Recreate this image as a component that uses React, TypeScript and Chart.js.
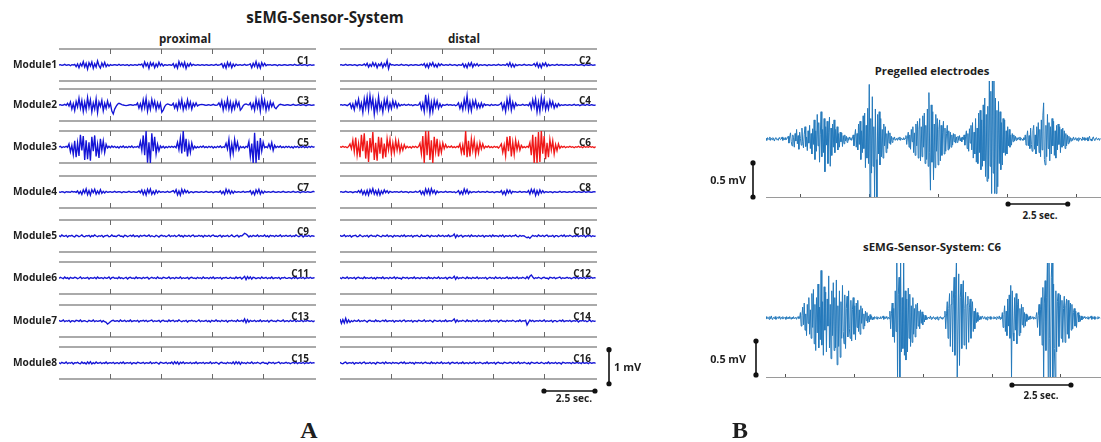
import React, { useEffect, useRef } from "react";
import { Chart, registerables } from "chart.js";
Chart.register(...registerables);

// ---------- axes / tick data ----------
const A_T_MAX = 12.6; // seconds shown in each panel-A trace
const tickTimesA = [2.5, 5, 7.5, 10];
const B_T_MAX = 14.6;
const B_DT = 1 / 30;
const tickTimesB1 = [1.48, 4.5, 7.5, 10.5, 13.5];
const tickTimesB2 = [0.83, 3.83, 6.83, 9.83, 12.83];

const moduleLabels = ["Module1", "Module2", "Module3", "Module4", "Module5", "Module6", "Module7", "Module8"];
const channelLabels = ["C1", "C2", "C3", "C4", "C5", "C6", "C7", "C8", "C9", "C10", "C11", "C12", "C13", "C14", "C15", "C16"];

// ---------- signal values, unit 0.01 mV (panel A: 180 samples over 12.6 s) ----------
const c1 = [
  0, 1, -1, 0, 2, -1, 0, 1, -2, 1, 0, 2, -5, 3, -8, 4, -3, 10, -6, 5,
  -12, 7, -3, 9, -10, 4, -6, 12, -2, -9, 6, -4, 8, -5, 2, -3, 1, -1, 0, 1,
  0, -1, 2, -1, 0, 1, -1, 0, 1, -2, 1, 0, -1, 1, 0, -1, 2, 0, 3, -6,
  9, -3, 5, -10, 7, -2, 6, -8, 3, -5, 8, -2, 4, -3, 1, 0, -1, 1, 0, -1,
  4, -7, 2, -9, 10, -3, 6, -5, 8, -10, 3, -4, 5, -2, 2, 0, -1, 1, 0, -1,
  1, 0, -1, 1, 0, -1, 0, 1, -1, 0, 2, -1, 0, 1, 4, -7, 3, -9, 8, -4,
  6, -8, 3, -4, 2, -1, 0, 1, -1, 0, 2, -1, 0, 1, 3, -8, 5, -4, 10, -7,
  4, -9, 7, -3, 5, -2, 1, 0, 1, -1, 0, 1, 0, -2, 1, 0, -1, 0, 1, 0,
  -1, 0, 1, 0, -1, 2, 0, -1, 0, 1, -1, 0, 1, 0, -2, 0, 1, -1, 0, 0,
];
const c2 = [
  0, 1, -1, 0, 2, -1, 0, 1, 0, -1, 1, 0, -2, 0, 1, -1, 0, 3, -2, 5,
  -6, 2, -4, 7, -3, 5, -8, 3, -2, 6, -7, 4, -3, 13, -11, 4, 0, 1, -1, 0,
  1, -1, 0, 2, 0, -1, 1, 0, -2, 0, 1, -1, 0, 1, 0, -1, 0, 2, -1, 4,
  -6, 3, -8, 5, -2, 7, -5, 2, -6, 4, -2, 3, 0, -1, 1, 0, -1, 2, 0, -1,
  1, 0, -2, 1, 0, -1, 4, -6, 2, -8, 5, -3, 7, -6, 3, -2, 4, -3, 1, 0,
  -1, 1, 0, -2, 1, 0, -1, 0, 1, -1, 0, 2, 0, -1, 1, 0, -1, 4, -3, 7,
  -5, 3, -6, 2, -2, 0, 1, -1, 0, 2, 0, -1, 1, 0, -1, 0, 4, -3, 6, -7,
  3, -8, 5, -2, 6, -4, 2, -2, 0, 1, -1, 0, 2, -1, 0, 1, 0, -1, 1, 0,
  -1, 0, 1, 0, -1, 2, 0, -1, 0, 1, 0, -2, 1, 0, -1, 0, 1, -1, 0, 0,
];
const c3 = [
  0, 1, -1, 0, 2, -1, 5, -3, 9, -12, 4, -16, 10, -6, 20, -9, 13, -19, 8, -14,
  22, -7, 15, -20, 6, -12, 18, -22, 9, -4, 14, -17, 5, -10, 12, -6, 4, -18, -26, -12,
  -4, 2, 5, 3, 1, 0, -1, -2, -1, 0, 1, 0, -1, 1, 0, 6, -9, 4, -13, 15,
  -8, 20, -18, 7, -13, 16, -5, 11, -14, 6, -9, 5, -21, -15, -5, 1, 3, 2, 0, -1,
  5, -9, 3, -13, 11, -6, 16, -14, 4, -10, 15, -7, 9, -12, 5, -4, 6, -3, 0, 1,
  2, 1, 0, -1, 0, 1, -1, 0, 2, 0, -1, 0, 6, -4, 12, -15, 7, -10, 17, -12,
  9, -16, 5, -11, 12, -4, 8, -15, -10, -2, 2, 3, 1, 0, 6, -10, 4, -15, 17, -8,
  12, -18, 20, -7, 14, -16, 6, -12, 10, -5, 6, -7, -11, -5, 0, 2, 1, 0, -1, 0,
  1, 0, -1, 0, 2, 0, -1, 0, 1, -1, 0, 1, 0, -2, 0, 1, 0, -1, 0, 0,
];
const c4 = [
  0, 1, -1, 1, 0, -2, 1, 5, -9, 3, -14, 10, -4, 17, -11, 6, -22, 18, -8, 24,
  -14, 28, -6, 19, -27, 9, -17, 24, -12, 5, -21, 15, -7, 18, -14, 6, -11, 13, -5, 9,
  -8, 4, -3, 1, -1, 2, -1, 0, 2, -1, 1, -2, 0, 1, -1, 0, 7, -12, 5, -19,
  30, -10, 21, -24, 8, -19, 14, -6, 12, -10, 4, -6, 1, -1, 0, 2, -1, 1, 0, -1,
  1, -2, 0, 6, -10, 4, -14, 16, -7, 28, -15, 9, -17, 12, -5, 13, -10, 4, -8, 6,
  -6, 3, -1, 1, 0, -2, 2, -1, 0, 1, -1, 0, 2, 7, -12, 4, -19, 17, -8, 21,
  -15, 8, -9, 6, -2, 1, -1, 0, 2, -1, 0, 1, -2, 6, -11, 15, -6, 18, -20, 9,
  -19, 22, -8, 17, -14, 6, -12, 13, -4, 10, -9, 3, -6, 4, -2, 1, -1, 0, 1, -1,
  0, 1, -1, 0, 2, -1, 0, 1, -2, 0, 1, 0, -1, 2, 0, -1, 1, 0, -1, 0,
];
const c5 = [
  0, 2, -2, 1, -1, 2, -1, 9, -14, 5, -22, 18, -30, 12, -26, 36, -10, 32, -38, 20,
  -36, 14, -40, 30, -12, 34, -28, 8, -32, 24, -10, 18, -16, 8, -3, 2, -2, 3, -1, 2,
  -2, 1, -3, 2, -1, 3, -2, 1, -2, 2, -1, 3, -2, 1, -1, 2, -2, 16, -10, 34,
  -24, 47, -46, 14, -47, 40, -12, 30, -20, 8, -11, 3, -2, 2, -3, 1, -2, 2, -1, 2,
  -1, 2, -2, 14, -8, 26, -19, 47, -14, 24, -28, 10, -16, 12, -6, 2, -3, 1, -2, 2,
  -1, 3, -2, 1, -2, 2, -1, 2, -3, 1, -2, 2, -1, 3, -2, 1, -1, 11, -6, 22,
  -24, 9, -19, 22, -6, 14, -9, 2, -2, 1, -3, 2, -1, 16, -28, 10, -47, 42, -47, 18,
  -38, 26, -12, 14, -2, 1, -2, 9, -4, 13, -10, 5, -2, 2, -1, 3, -2, 1, -2, 2,
  -1, 2, -2, 1, -3, 2, -1, 2, -2, 1, -1, 3, -2, 1, -2, 2, -1, 2, -1, 1,
];
const c6 = [
  1, -1, 2, -1, 1, -2, 1, 9, -5, 20, -14, 28, -24, 10, -30, 36, -12, 40, -34, 18,
  -44, 26, -16, 44, -38, 12, -40, 30, -20, 28, -34, 10, -30, 24, -8, 22, -20, 12, -17, 20,
  -9, 16, -14, 6, -9, 7, -4, 2, -2, 1, -3, 2, -1, 2, -2, 1, 11, -20, 32, -47,
  47, -24, 47, -38, 20, -47, 30, -14, 24, -28, 9, -16, 12, -5, 7, -2, 2, -1, 3, -2,
  1, -2, 2, -1, 9, -17, 6, -24, 47, -30, 18, -28, 24, -10, 20, -22, 8, -17, 13, -6,
  9, -4, 2, -1, 3, -2, 1, -2, 2, -1, 1, -3, 2, 9, -16, 6, -26, 30, -12, 32,
  -28, 14, -22, 20, -8, 13, -9, 5, -2, 1, -2, 2, -1, 13, -24, 36, -47, 30, -47, 44,
  -44, 47, -20, 32, -36, 12, -30, 22, -9, 18, -20, 7, -11, 9, -4, 2, -1, 2, -2, 1,
  -1, 2, -1, 1, -2, 1, -1, 2, -1, 1, -2, 2, -1, 1, -1, 2, -1, 1, -2, 1,
];
const c7 = [
  0, -1, 1, 0, -2, 1, 0, 0, -1, 2, 0, 1, -1, 3, -5, 2, -7, 6, -3, 9,
  -8, 4, -9, 7, -2, 8, -6, 3, -5, 7, -4, 2, -3, 2, -1, 0, 1, -1, 0, 2,
  -1, 0, 1, 0, -2, 1, 0, -1, 0, 2, 0, -1, 1, 0, -1, 0, 3, -2, 6, -7,
  4, -9, 8, -3, 9, -7, 2, -6, 5, -3, 3, -1, 0, 1, -1, 0, 2, -1, 0, 2,
  4, -2, 7, -8, 3, -9, 8, -4, 6, -2, 4, -3, 0, 1, -2, 0, 1, 0, -1, 0,
  1, -1, 0, 2, 0, -1, 0, 1, -2, 0, 1, 0, -1, 3, -5, 2, -7, 8, -3, 6,
  -5, 3, -4, 2, -1, 0, 1, -1, 0, 2, -1, 0, 1, 0, 4, -6, 2, -8, 6, -3,
  8, -6, 3, -4, 2, -1, 0, 1, -1, 0, 2, 0, -1, 0, 1, -1, 0, 2, 0, -1,
  0, 1, -1, 0, 2, 0, -1, 1, 0, -2, 0, 1, 0, -1, 1, 0, -1, 0, 2, 0,
];
const c8 = [
  0, 1, -1, 0, 2, 0, -1, 1, 0, -2, 0, 1, -1, 4, -2, 6, -7, 3, -8, 5,
  -9, 7, -3, 10, -6, 4, -8, 6, -9, 3, -5, 6, -2, 4, -3, 2, 0, -1, 1, 0,
  1, -1, 0, 2, -1, 0, 1, 0, -2, 1, 0, -1, 0, 2, -1, 0, 4, -6, 2, -8,
  9, -4, 8, -7, 10, -3, 5, -6, 3, -2, 0, 1, -1, 0, 2, -1, 0, 1, 0, -1,
  1, -2, 0, 4, -6, 2, -7, 9, -3, 7, -5, 2, -2, 0, 1, -1, 0, 2, -1, 0,
  1, 0, -1, 2, 0, -1, 0, 1, -2, 0, 1, 0, -1, 4, -6, 2, -8, 6, -3, 5,
  -4, 2, 0, 1, -1, 0, 2, -1, 0, 1, 0, -1, 4, -6, 8, -3, 7, -10, 4, -7,
  6, -3, 4, -2, 1, 0, -1, 1, 0, -2, 1, 0, -1, 0, 2, -1, 0, 1, 0, -1,
  0, 1, -1, 0, 2, 0, -1, 1, 0, -1, 0, 2, -1, 0, 1, 0, -1, 0, 1, 0,
];
const c9 = [
  1, -2, 3, 0, -1, 2, -3, 1, 0, 2, -1, -3, 2, 1, -2, 0, 3, -1, -2, 1,
  0, 2, -3, 1, -1, 3, 0, -2, 1, -1, 2, -3, 0, 1, 2, -2, -1, 3, -1, 0,
  -2, 1, 3, -1, 0, -3, 2, 1, -2, 0, 2, -1, 3, -2, 0, 1, -3, 2, -1, 1,
  2, -1, 0, 3, -2, 1, -1, -2, 2, 0, -3, 1, 2, -1, 1, -2, 0, 3, -2, 1,
  -1, 2, -2, 0, 3, -1, 1, -3, 2, 0, -1, 2, -2, 1, 3, -2, 0, -1, 2, -1,
  1, -3, 2, 0, -1, 2, -2, 1, 3, -1, 0, -2, 1, 2, -3, 1, -1, 0, 2, -2,
  0, 3, -1, -2, 1, 2, -3, 1, 0, 4, 8, 6, 2, -3, 1, -2, 2, 0, -1, 3,
  -2, 1, 0, -1, 3, -2, 1, -3, 2, 0, 1, -2, 2, -1, 0, 3, -2, 1, -1, 2,
  -1, 0, 2, -2, 1, -1, 3, 0, -2, 1, 2, -3, 1, 0, -1, 2, -2, 1, 0, -1,
];
const c10 = [
  2, -1, 0, 3, -2, 1, -1, 2, -3, 0, 1, 2, -2, -1, 3, 0, -2, 1, -1, 2,
  -3, 1, 2, -1, 0, -2, 3, 1, -1, -2, 2, 0, -1, 3, -2, 1, 0, -3, 2, -1,
  1, 0, -2, 2, -1, 3, -2, 0, 1, -1, 2, -3, 1, 0, 2, -1, -2, 3, -1, 0,
  -1, 2, 1, -3, 2, 0, -1, 1, -2, 3, -1, 0, 2, -2, 1, -1, 3, -2, 0, 1,
  6, -5, 3, -2, 1, 2, -3, 0, 1, -1, 2, -2, 3, -1, 0, 1, -2, 2, -1, 0,
  2, -3, 1, 0, -1, 2, -2, 3, -1, 1, 0, -2, 2, -1, 3, -3, 1, 0, -1, 2,
  -2, 1, 0, 3, -1, -2, 2, -1, 1, 0, -3, -5, -3, -7, -2, 2, -1, 1, -2, 3,
  0, -1, 2, -2, 1, 3, -2, 0, -1, 2, -3, 1, 1, -2, 0, 2, -1, 3, -2, 1,
  -1, 2, 0, -2, 1, -1, 3, -2, 0, 1, -1, 2, -3, 1, 0, 2, -2, 1, -1, 0,
];
const c11 = [
  -1, 2, 0, -2, 3, -1, 1, -3, 2, 0, -1, 2, 1, -2, 0, 3, -2, 1, -1, 0,
  2, -3, 1, 0, -1, 2, -2, 3, -1, 0, 1, -2, 2, -1, 0, 3, -3, 1, 2, -1,
  0, -2, 3, -1, 1, -2, 0, 2, -3, 1, 2, -1, 0, -2, 3, -1, 1, 0, -2, 2,
  -1, 1, 2, -3, 0, 2, -1, 1, -2, 3, -1, 0, -2, 2, 1, -1, 0, 3, -2, 0,
  1, -2, 2, 0, -1, 3, -2, 1, -1, 0, 2, -3, 1, 2, -1, 0, -2, 2, -1, 1,
  -2, 3, -1, 0, 1, -2, 2, -1, 3, -2, 0, 1, -1, 2, -3, 1, 0, 2, -1, -1,
  2, -1, 0, -2, 3, -1, 1, 2, -3, 1, 5, -5, 4, -2, 3, -3, 2, 1, -2, 0,
  1, -2, 3, -1, 0, 2, -2, 1, -1, 3, -2, 0, 1, -1, 2, -3, 1, 0, 2, -1,
  -1, 1, 0, -2, 2, -1, 3, -2, 0, 1, -1, 2, -2, 0, 1, -1, 2, -1, 0, 1,
];
const c12 = [
  1, -2, 2, 0, -1, 3, -2, 1, 0, -1, 2, -3, 1, 2, -1, 0, -2, 3, -1, 1,
  -1, 0, 2, -2, 1, -3, 2, 0, 1, -1, 3, -2, 0, 1, -2, 2, -1, 0, 3, -2,
  2, -1, 0, -3, 2, 1, -1, 2, -2, 0, 1, -1, 3, -2, 1, 0, -2, 2, -1, 1,
  0, -2, 3, -1, 1, -2, 2, 0, -1, 3, -2, 1, -1, 0, 2, -3, 1, 2, -1, 0,
  5, -4, 3, -2, 1, -1, 2, 0, -2, 3, -1, 1, -2, 2, 0, -1, 3, -2, 1, -1,
  1, -1, 2, -3, 0, 2, -1, 1, -2, 3, -1, 0, 2, -2, 1, -1, 0, 3, -2, 1,
  -2, 2, 0, -1, 3, -2, 1, -1, 2, 0, -2, 4, -2, 5, 9, 3, -2, 1, -1, 2,
  0, -2, 1, 2, -1, 0, -3, 2, 1, -1, 2, -2, 0, 1, 3, -2, 1, -1, 0, 2,
  -1, 1, -2, 0, 2, -1, 3, -2, 1, 0, -1, 2, -2, 1, 0, -1, 2, -1, 1, 0,
];
const c13 = [
  2, -1, 0, 3, -2, 1, -1, 2, -3, 1, 0, -2, 2, 1, -1, 3, -2, 0, 1, -1,
  -2, 2, 0, -1, 3, -2, 1, -1, 0, 2, -3, 1, -2, -4, -9, -6, -2, 1, 2, -1,
  0, 1, -2, 3, -1, 0, 2, -2, 1, -1, 3, -2, 0, 1, -1, 2, -3, 1, 0, 2,
  -1, 2, -2, 0, 1, 3, -2, 1, -1, 0, 2, -3, 1, 2, -1, 0, -2, 3, -1, 1,
  2, -2, 1, -1, 3, 0, -2, 1, -1, 2, -3, 1, 0, 2, -1, 1, -2, 0, 3, -2,
  1, -1, 0, 2, -2, 1, -3, 2, 0, -1, 3, -1, 1, -2, 2, 0, -1, 2, -3, 1,
  0, 2, -1, 1, -2, 3, -1, 0, 2, -2, 6, -5, 4, -3, 2, -1, 0, 2, -2, 1,
  -1, 3, -2, 1, 0, -1, 2, -3, 1, 2, -1, 0, -2, 2, 1, -1, 0, 3, -2, 0,
  1, -2, 2, -1, 0, 3, -2, 1, -1, 0, 2, -2, 1, -1, 2, 0, -1, 1, -2, 1,
];
const c14 = [
  6, -7, 4, -6, 8, -5, 3, -4, 1, -2, 2, 0, -1, 3, -2, 1, -1, 2, 0, -3,
  1, 2, -1, 0, -2, 3, -1, 1, -2, 0, 2, -1, 3, -2, 0, 1, -1, 2, -3, 1,
  0, -1, 2, -2, 1, 3, -2, 0, 1, -1, 2, -3, 1, 0, -2, 2, 1, -1, 0, 3,
  -2, 1, -1, 2, 0, -3, 2, 1, -1, 0, 2, -2, 1, -1, 3, -2, 0, 1, -1, 2,
  6, -4, 3, -2, 1, -1, 2, 0, -2, 3, -1, 1, -2, 2, 0, -1, 3, -2, 1, -1,
  0, 2, -2, 1, -1, 3, -2, 0, 1, -1, 2, -3, 1, 2, -1, 0, -2, 2, -1, 1,
  -1, 2, 0, -2, 1, -1, 3, -2, 1, 0, 2, -12, -4, 3, -1, 2, -2, 0, 1, -1,
  2, -1, 0, 3, -2, 1, -1, 0, 2, -3, 1, 1, -2, 0, 2, -1, 3, -2, 0, 1,
  -1, 2, -2, 0, 1, -1, 2, -3, 1, 0, 2, -1, 1, -2, 0, 3, -2, 1, -1, 0,
];
const c15 = [
  1, -2, 2, 0, -1, 3, -2, 1, -1, 2, -3, 1, 0, 2, -1, -2, 3, -1, 1, -3,
  3, -2, 4, -3, 1, -2, 3, -1, 0, 2, -2, 1, -1, 3, -2, 0, 1, -1, 2, -2,
  0, 1, -2, 2, -1, 3, -2, 0, 1, -1, 2, -3, 1, 0, -2, 2, 1, -1, 0, 2,
  -2, 1, 0, -1, 3, -2, 1, -1, 2, 0, -3, 2, 1, -1, 0, 2, -2, 1, -1, 3,
  -3, 4, -2, 3, -4, 2, -1, 3, -2, 1, 0, -1, 2, -2, 1, -1, 3, -2, 0, 1,
  -1, 2, -2, 1, 0, -1, 3, -2, 1, -1, 2, 0, -3, 1, 2, -1, 0, -2, 2, -1,
  1, -2, 3, -3, 4, -2, 3, -4, 2, -1, 1, -2, 2, 0, -1, 3, -2, 1, -1, 2,
  0, -2, 1, 2, -1, 0, -3, 2, 1, -1, 2, -2, 0, 1, 3, -2, 1, -1, 0, 2,
  -1, 1, -2, 0, 2, -1, 3, -2, 1, 0, -1, 2, -2, 1, 0, -1, 2, -1, 1, 0,
];
const c16 = [
  2, -1, -2, 1, 3, -2, 0, 1, -1, 2, -3, 1, 0, -1, 2, -2, 1, 3, -2, 0,
  -1, 2, -2, 1, 0, -3, 2, 1, -1, 0, 2, -2, 3, -1, 0, 1, -2, 2, -1, 1,
  0, -2, 1, 2, -1, 3, -2, 0, -1, 2, -1, 1, -3, 2, 0, 1, -1, 2, -2, 1,
  2, -1, 0, -2, 3, -1, 1, -2, 2, 0, -1, 3, -2, 1, -1, 0, 2, -3, 1, 2,
  -1, 0, 2, -2, 1, -1, 3, -2, 0, 1, -2, 2, -1, 0, 3, -2, 1, -1, 2, 0,
  -2, 1, -1, 3, -2, 0, 1, -1, 2, -3, 1, 2, -1, 0, -2, 2, 1, -1, 0, 2,
  1, -2, 2, -1, 0, 3, -2, 1, -1, 2, 0, -2, 1, -3, 2, 1, -1, 0, 2, -1,
  -1, 2, 0, -2, 1, -1, 3, -2, 1, 0, -1, 2, -2, 1, 0, -3, 2, 1, -1, 1,
  0, 1, -2, 2, -1, 0, 2, -1, 1, -2, 3, -1, 0, 1, -2, 2, -1, 0, 1, -1,
];

// Panel B, unit 0.01 mV, one row = 1 s (30 samples per second)
const pregelled = [
  1, -2, 2, 0, -1, 3, -2, 1, -1, 2, 0, -3, 1, 2, -1, 0, -2, 2, 1, -1, 0, 3, -2, 1, -1, 2, -1, 0, 1, 4,
  -6, 3, 9, -4, -10, 6, 2, -12, 8, -3, 14, -7, 5, -15, 10, 1, -9, 16, -4, -13, 7, 18, -11, 3, -17, 12, -6, 20, -14, 8,
  -22, 15, -8, 28, -30, 12, -18, 36, -10, 24, -34, 6, 40, -26, 14, -20, 30, -48, 18, -9, 26, -36, 10, 32, -40, 16, -24, 22, -12, 28,
  -20, 14, -6, 18, -16, 8, -12, 10, -4, 9, -11, 5, -7, 6, -3, 4, -5, 2, -2, 3, -1, 2, -2, 1, 6, -10, 4, 14, -12, 8,
  -16, 22, -8, 26, -30, 12, -20, 34, -14, 38, -42, 20, -28, 45, -36, 80, -85, 30, -50, 62, -40, 18, -85, 44, -30, -85, 36, -22, 40, -38,
  30, -26, 14, -28, 22, -10, 18, -20, 8, -14, 12, -6, 9, -8, 4, -5, 2, -1, 3, -2, 0, 1, -2, 2, -1, 3, -2, 1, 0, -1,
  2, -1, 1, 5, -8, 3, 10, -12, 6, -15, 14, -4, 18, -20, 9, -24, 22, -10, 26, -28, 14, 30, -32, 18, -26, 34, -12, 38, -36, 20,
  -30, 44, -40, 68, -20, -75, 50, -34, 40, -60, 22, -42, 36, -18, 30, -38, 14, 28, -32, 20, -24, 10, 26, -22, 16, -18, 8, 20, -16, 12,
  -14, 10, -12, 6, -9, 8, -4, 7, -6, 3, -5, 4, -2, 5, -3, 2, -4, 3, -1, 6, -9, 4, 12, -14, 8, -18, 15, -6, 20, -16,
  24, -28, 10, -22, 30, -34, 16, -36, 38, -20, 42, -45, 28, -40, 50, -32, 60, -55, 36, -62, 48, -58, 90, -40, 70, -80, 95, -50, 88, -80,
  60, -80, 42, -70, 55, -36, 40, -45, 24, -38, 30, -20, 28, -24, 12, -22, 18, -10, 14, -12, 6, -9, 8, -4, 6, -3, 4, -2, 2, -1,
  2, -1, 3, -2, 1, 0, -2, 2, -1, 6, -9, 3, 12, -10, 5, -14, 16, -8, -18, 12, 20, -15, 6, -22, 18, -10, 24, -20, 14, -26,
  28, -16, 34, 53, -30, -38, 20, -26, 36, -14, 24, -32, 18, -22, 30, -10, 26, -24, 12, -28, 20, -16, 22, -8, 18, -20, 14, -12, 16, -10,
  12, -14, 8, -10, 6, -7, 4, -5, 2, -3, 1, -2, 3, -1, 0, 2, -2, 1, -3, 2, -1, 1, 0, -2, 3, -1, 2, -2, 1, -1,
  2, -3, 1, 4, -2, 0, -3, 2, 3, -1, -2, 1, 2, -1, 0, 1, -2, 1,
];
const sensorC6 = [
  2, -1, 0, 1, -2, 2, -1, 3, -2, 0, 1, -1, 2, -2, 0, 1, -1, 2, 0, -2, 1, -1, 2, -1, 0, 1, -2, 2, -1, 1,
  -1, 2, 0, -2, 1, -1, 2, -1, 0, 1, -2, 1, 2, -1, 0, 8, -12, 4, 16, -10, 22, -18, 6, -26, 20, -8, 30, -24, 12, -30,
  36, -14, 42, -38, 20, -48, 30, -22, 50, -44, 16, -32, 70, -40, 24, -55, 46, -18, 38, -50, 28, -12, 62, -44, 20, -60, 40, -26, 52, -48,
  30, -44, 56, -69, 18, -42, 40, -58, 24, -30, 48, -20, -38, 34, -45, 14, 32, -28, 40, -16, -30, 26, -34, 12, 30, -24, 18, -32, 22, -14,
  26, -20, 12, -24, 18, -8, 14, -16, 6, -12, 10, -4, 8, -7, 3, -6, 5, -2, 3, -3, 1, -2, 2, 0, -1, 2, -2, 1, 0, -1,
  2, -1, 0, 3, -2, 1, -1, 2, 0, -2, 1, -1, 10, -16, 6, 22, -28, 14, -36, 40, -20, 90, -90, 35, 60, -90, 85, -50, 30, -45,
  90, -55, 40, -62, 28, -50, 44, -30, 35, -42, 18, -36, 30, -24, 14, -28, 20, -16, 22, -12, 10, -16, 12, -8, 9, -10, 5, -6, 4, -3,
  2, -2, 1, 0, -1, 3, -2, 1, -1, 2, 0, -2, 1, -1, 2, -3, 1, 0, 2, -1, 1, -2, 0, 2, 10, -16, 6, 24, -30, 14,
  36, -42, 20, 40, -50, 28, 60, -55, 35, 90, -90, -90, 65, -70, 30, 50, -45, 22, 55, -40, 14, 38, -46, 20, 32, -36, 16, 28, -30, 12,
  24, -20, 10, -16, 14, -7, 8, -5, 4, -3, 2, -2, 1, 3, -1, 0, 2, -2, 1, -3, 2, 0, -1, 2, -2, 1, 0, -1, 2, -1,
  1, -2, 2, 0, -1, 3, -2, 1, -1, 8, -14, 5, 18, -20, 10, -26, 28, -12, 34, -30, 48, -90, 40, -22, -34, 30, -18, 36, -38, 20,
  28, -26, 14, -22, 20, -10, 16, -14, 8, -12, 6, -5, 4, -3, 2, -2, 3, -1, 0, 2, -2, 1, -1, 2, 8, -14, 4, 20, -26, 12,
  30, -40, 45, -90, 22, 55, -48, 30, 90, -90, 85, -30, -90, 60, 90, -90, 50, -45, -90, 40, -50, 24, 36, -42, 18, 34, -30, 26, -36, 14,
  32, -36, 18, 28, -24, 26, -30, 12, 22, -18, 20, -16, 8, 14, -12, 10, -14, 6, 8, -6, 4, -5, 3, -3, 2, -1, 2, 0, -1, 1,
  -1, 2, -2, 1, 0, 3, -2, 1, -1, 2, -2, 1, 0, -1, 2, -1, 1, 0,
];

const channelValues = [c1, c2, c3, c4, c5, c6, c7, c8, c9, c10, c11, c12, c13, c14, c15, c16];

// ---------- layout ----------
const rowTops = [49, 89, 131, 176, 220, 262, 305, 347];
const colLefts = [59, 340];
const A_W = 257;
const A_H = 32;
const FONT = "'Open Sans', 'Noto Sans', 'Liberation Sans', sans-serif";
const BLUE = "#1414d6";
const RED = "#f01818";
const BBLUE = "#2479bb";

type DrawFn = (chart: any) => void;

function drawDotBar(ctx: CanvasRenderingContext2D, x1: number, y1: number, x2: number, y2: number) {
  ctx.save();
  ctx.strokeStyle = "#111";
  ctx.fillStyle = "#111";
  ctx.lineWidth = 1.6;
  ctx.beginPath();
  ctx.moveTo(x1, y1);
  ctx.lineTo(x2, y2);
  ctx.stroke();
  for (const [x, y] of [[x1, y1], [x2, y2]]) {
    ctx.beginPath();
    ctx.arc(x, y, 2.6, 0, Math.PI * 2);
    ctx.fill();
  }
  ctx.restore();
}

const frameA: DrawFn = (chart) => {
  const { ctx, chartArea: a, scales } = chart;
  const x = scales.x;
  ctx.save();
  ctx.strokeStyle = "#8e8e8e";
  ctx.lineWidth = 1.5;
  ctx.beginPath();
  ctx.moveTo(a.left, a.top);
  ctx.lineTo(a.right, a.top);
  ctx.moveTo(a.left, a.bottom);
  ctx.lineTo(a.right, a.bottom);
  ctx.stroke();
  ctx.strokeStyle = "#6a6a6a";
  ctx.lineWidth = 1;
  ctx.beginPath();
  for (const t of tickTimesA) {
    const px = Math.round(x.getPixelForValue(t)) + 0.5;
    ctx.moveTo(px, a.top);
    ctx.lineTo(px, a.top + 5);
    ctx.moveTo(px, a.bottom);
    ctx.lineTo(px, a.bottom - 5);
  }
  ctx.stroke();
  ctx.restore();
};

const frameB = (ticks: number[]): DrawFn => (chart) => {
  const { ctx, chartArea: a, scales } = chart;
  const x = scales.x;
  ctx.save();
  ctx.strokeStyle = "#9a9a9a";
  ctx.lineWidth = 1;
  ctx.beginPath();
  ctx.moveTo(a.left, a.bottom + 0.5);
  ctx.lineTo(a.right, a.bottom + 0.5);
  ctx.stroke();
  ctx.strokeStyle = "#555";
  ctx.beginPath();
  for (const t of ticks) {
    const px = Math.round(x.getPixelForValue(t)) + 0.5;
    ctx.moveTo(px, a.bottom);
    ctx.lineTo(px, a.bottom - 3);
  }
  ctx.stroke();
  ctx.restore();
};

const barsA: DrawFn = (chart) => {
  const { ctx, chartArea: a, scales } = chart;
  const bx = a.right + 12;
  drawDotBar(ctx, bx, scales.y.getPixelForValue(-61), bx, scales.y.getPixelForValue(39));
  const by = a.bottom + 12;
  drawDotBar(ctx, scales.x.getPixelForValue(10), by, scales.x.getPixelForValue(12.5), by);
};

const barsB = (dx: number, yLow: number, dy: number, t0: number, t1: number): DrawFn => (chart) => {
  const { ctx, chartArea: a, scales } = chart;
  const bx = a.left - dx;
  drawDotBar(ctx, bx, scales.y.getPixelForValue(yLow), bx, scales.y.getPixelForValue(yLow + 50));
  const by = a.bottom + dy;
  drawDotBar(ctx, scales.x.getPixelForValue(t0), by, scales.x.getPixelForValue(t1), by);
};

type SigProps = {
  left: number; top: number; width: number; height: number;
  pad: { left: number; right: number; top: number; bottom: number };
  values: number[]; dt: number; xMax: number; yMin: number; yMax: number;
  color: string; lineWidth: number; frame: DrawFn; extra?: DrawFn;
};

function Signal(p: SigProps) {
  const ref = useRef<HTMLCanvasElement>(null);
  useEffect(() => {
    if (!ref.current) return;
    const plugin = {
      id: "frameDeco",
      beforeDatasetsDraw(chart: any) { p.frame(chart); },
      afterDraw(chart: any) { if (p.extra) p.extra(chart); },
    };
    const chart = new Chart(ref.current, {
      type: "line",
      data: {
        datasets: [{
          data: p.values.map((v, i) => ({ x: i * p.dt, y: v })),
          borderColor: p.color,
          borderWidth: p.lineWidth,
          pointRadius: 0,
          tension: 0,
          fill: false,
        }],
      },
      options: {
        animation: false,
        responsive: false,
        maintainAspectRatio: false,
        events: [],
        layout: { padding: p.pad },
        scales: {
          x: { type: "linear", min: 0, max: p.xMax, display: false },
          y: { type: "linear", min: p.yMin, max: p.yMax, display: false },
        },
        plugins: { legend: { display: false }, tooltip: { enabled: false } },
      },
      plugins: [plugin],
    } as any);
    return () => chart.destroy();
  }, []);
  return (
    <canvas ref={ref} width={p.width} height={p.height}
      style={{ position: "absolute", left: p.left, top: p.top, width: p.width, height: p.height }} />
  );
}

function Label(props: { x: number; y: number; text: string; size: number; align?: "left" | "center" | "right"; serif?: boolean; color?: string }) {
  const al = props.align || "left";
  const tx = al === "center" ? "-50%" : al === "right" ? "-100%" : "0";
  return (
    <div style={{
      position: "absolute", left: props.x, top: props.y, transform: `translate(${tx}, -50%)`,
      whiteSpace: "nowrap", lineHeight: 1, fontSize: props.size, fontWeight: 700,
      fontFamily: props.serif ? "'Liberation Serif', 'DejaVu Serif', serif" : FONT,
      color: props.color || "#1e1e1e",
    }}>{props.text}</div>
  );
}

export default function App() {
  const panels: React.ReactNode[] = [];
  for (let r = 0; r < 8; r++) {
    for (let c = 0; c < 2; c++) {
      const idx = r * 2 + c;
      const vals = channelValues[idx];
      const last = idx === 15;
      panels.push(
        <Signal key={"s" + idx}
          left={colLefts[c]} top={rowTops[r] - 2}
          width={A_W + (last ? 50 : 0)} height={A_H + 4 + (last ? 24 : 0)}
          pad={{ left: 0, right: last ? 50 : 0, top: 2, bottom: 2 + (last ? 24 : 0) }}
          values={vals} dt={A_T_MAX / vals.length} xMax={A_T_MAX} yMin={-47} yMax={47}
          color={idx === 5 ? RED : BLUE} lineWidth={1.35}
          frame={frameA} extra={last ? barsA : undefined} />
      );
      panels.push(
        <Label key={"c" + idx} x={c === 0 ? 309 : 591} y={rowTops[r] + 11} text={channelLabels[idx]} size={10} align="right" />
      );
    }
    panels.push(<Label key={"m" + r} x={57} y={rowTops[r] + 15} text={moduleLabels[r]} size={10.2} align="right" />);
  }

  return (
    <div style={{ position: "absolute", left: 0, top: 0, width: 1101, height: 442, background: "#fff", overflow: "hidden" }}>
      <Label x={325} y={18} text="sEMG-Sensor-System" size={15.2} align="center" />
      <Label x={185} y={39} text="proximal" size={11.6} align="center" />
      <Label x={464} y={39} text="distal" size={11.6} align="center" />
      {panels}
      <Label x={614} y={366} text="1 mV" size={11} />
      <Label x={574} y={398} text="2.5 sec." size={10.2} align="center" />

      <Label x={932} y={71} text="Pregelled electrodes" size={11.3} align="center" />
      <Signal left={736} top={81} width={365} height={128}
        pad={{ left: 30, right: 0, top: 0, bottom: 12 }}
        values={pregelled} dt={B_DT} xMax={B_T_MAX} yMin={-85} yMax={85}
        color={BBLUE} lineWidth={1} frame={frameB(tickTimesB1)} extra={barsB(13, -85, 7, 10.55, 13.15)} />
      <Label x={746} y={180} text="0.5 mV" size={10.8} align="right" />
      <Label x={1040} y={216} text="2.5 sec." size={9.8} align="center" />

      <Label x={932} y={247} text="sEMG-Sensor-System: C6" size={11.4} align="center" />
      <Signal left={736} top={263} width={365} height={126}
        pad={{ left: 30, right: 0, top: 0, bottom: 12 }}
        values={sensorC6} dt={B_DT} xMax={B_T_MAX} yMin={-87} yMax={81}
        color={BBLUE} lineWidth={1} frame={frameB(tickTimesB2)} extra={barsB(10, -84, 8, 10.72, 13.29)} />
      <Label x={746} y={359} text="0.5 mV" size={10.8} align="right" />
      <Label x={1041} y={396} text="2.5 sec." size={9.8} align="center" />

      <Label x={309} y={430} text="A" size={24} align="center" serif />
      <Label x={740} y={430} text="B" size={24} align="center" serif />
    </div>
  );
}
